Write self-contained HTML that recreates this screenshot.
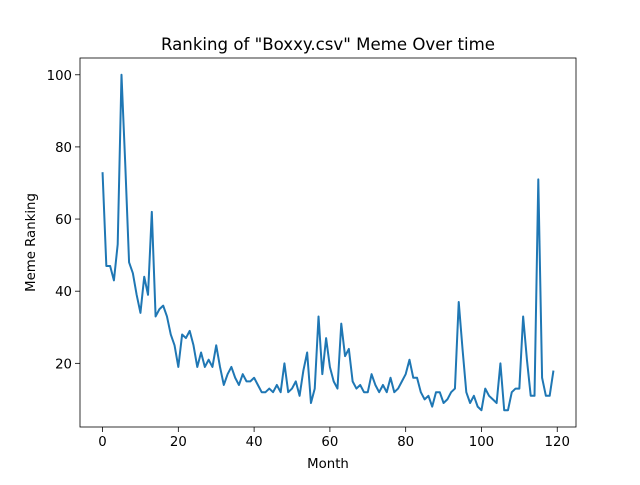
<!DOCTYPE html>
<html><head><meta charset="utf-8"><style>
body{margin:0;background:#fff}
svg{font-family:"DejaVu Sans","Liberation Sans",sans-serif}
</style></head><body>
<svg id="chart" width="640" height="480" viewBox="0 0 640 480">
<rect width="640" height="480" fill="#fff"/>
<text x="328" y="50" text-anchor="middle" font-size="16.6">Ranking of "Boxxy.csv" Meme Over time</text>
<text x="328" y="468" text-anchor="middle" font-size="13.3">Month</text>
<text transform="translate(35,242.5) rotate(-90)" text-anchor="middle" font-size="13.3">Meme Ranking</text>
<g id="xt"></g><g id="yt"></g><g id="plot"></g>
<rect x="80" y="58" width="496" height="369" fill="none" stroke="#000" stroke-width="0.8"/>
</svg>
<script>
const values=[73,47,47,43,53,100,75,48,45,39,34,44,39,62,33,35,36,33,28,25,19,28,27,29,25,19,23,19,21,19,25,19,14,17,19,16,14,17,15,15,16,14,12,12,13,12,14,12,20,12,13,15,11,18,23,9,13,33,17,27,19,15,13,31,22,24,15,13,14,12,12,17,14,12,14,12,16,12,13,15,17,21,16,16,12,10,11,8,12,12,9,10,12,13,37,24,12,9,11,8,7,13,11,10,9,20,7,7,12,13,13,33,21,11,11,71,16,11,11,18];
const xTicks=[0,20,40,60,80,100,120];
const yTicks=[20,40,60,80,100];
const NS="http://www.w3.org/2000/svg";
const x0=80,x1=576,y0=58,y1=427;
const n=values.length;
const xmin=-(n-1)*0.05,xmax=(n-1)*1.05;
const vmin=Math.min(...values),vmax=Math.max(...values),pad=(vmax-vmin)*0.05;
const ymin=vmin-pad,ymax=vmax+pad;
const sx=v=>x0+(v-xmin)/(xmax-xmin)*(x1-x0);
const sy=v=>y1-(v-ymin)/(ymax-ymin)*(y1-y0);
const xt=document.getElementById('xt'),yt=document.getElementById('yt'),plot=document.getElementById('plot');
xTicks.forEach(t=>{
 const l=document.createElementNS(NS,'line');
 l.setAttribute('x1',sx(t));l.setAttribute('x2',sx(t));l.setAttribute('y1',y1);l.setAttribute('y2',y1+5);
 l.setAttribute('stroke','#000');l.setAttribute('stroke-width','0.8');
 
 
 xt.appendChild(l);
 const tx=document.createElementNS(NS,'text');
 tx.setAttribute('x',sx(t));tx.setAttribute('y',y1+19);tx.setAttribute('text-anchor','middle');tx.setAttribute('font-size','13.3');
 tx.textContent=t;
 
 
 xt.appendChild(tx);
});
yTicks.forEach(t=>{
 const l=document.createElementNS(NS,'line');
 l.setAttribute('x1',x0-5);l.setAttribute('x2',x0);l.setAttribute('y1',sy(t));l.setAttribute('y2',sy(t));
 l.setAttribute('stroke','#000');l.setAttribute('stroke-width','0.8');
 
 
 yt.appendChild(l);
 const tx=document.createElementNS(NS,'text');
 tx.setAttribute('x',x0-8);tx.setAttribute('y',sy(t)+5);tx.setAttribute('text-anchor','end');tx.setAttribute('font-size','13.3');
 tx.textContent=t;
 
 
 yt.appendChild(tx);
});
const p=document.createElementNS(NS,'polyline');
p.setAttribute('points',values.map((v,i)=>sx(i)+','+sy(v)).join(' '));
p.setAttribute('fill','none');p.setAttribute('stroke','#1f77b4');p.setAttribute('stroke-width','2');p.setAttribute('stroke-linejoin','round');


plot.appendChild(p);
</script>
</body></html>
